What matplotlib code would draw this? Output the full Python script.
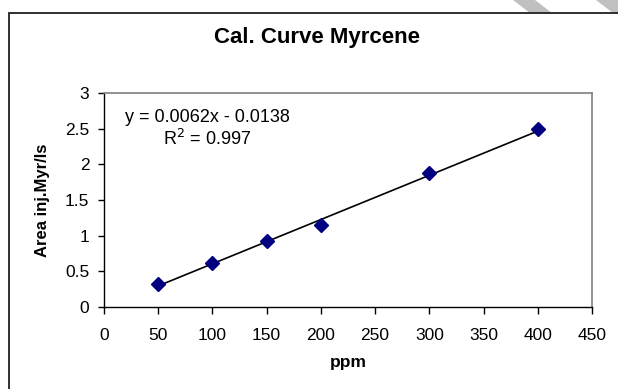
import matplotlib
matplotlib.use("Agg")
import matplotlib.pyplot as plt
from matplotlib.patches import Polygon, Rectangle

plt.rcParams['font.family'] = ['Liberation Sans', 'DejaVu Sans']

W, H = 618, 389

# calibration data
ppm = [50, 100, 150, 200, 300, 400]
area = [0.32, 0.62, 0.93, 1.15, 1.88, 2.49]
slope, intercept, r2 = 0.0062, -0.0138, 0.997
x_ticks = [0, 50, 100, 150, 200, 250, 300, 350, 400, 450]
y_ticks = [0, 0.5, 1, 1.5, 2, 2.5, 3]
y_ticklabels = ['0', '0.5', '1', '1.5', '2', '2.5', '3']

fig = plt.figure(figsize=(W / 100, H / 100), dpi=100)

def px(x, y):
    return (x / W, 1 - y / H)

# grey diagonal stripes behind the chart (top right)
for pts in ([(513, 0), (535, 0), (552, 13), (530, 13)],
            [(596, 0), (620, 0), (637, 13), (613, 13)]):
    fig.add_artist(Polygon([px(*p) for p in pts], closed=True,
                           transform=fig.transFigure, color='#c0c0c0', lw=0))

# outer chart box (runs off the right and bottom edge)
fig.add_artist(Rectangle(px(9, 400), (700 - 9) / W, (400 - 12.8) / H,
                         transform=fig.transFigure, fill=False,
                         edgecolor='#202020', lw=1.3))

ax = fig.add_axes([104 / W, 1 - 307 / H, 488 / W, 214 / H])

xs = [ppm[0], ppm[-1]]
ax.plot(xs, [slope * x + intercept for x in xs], color='black', lw=1.2, zorder=2)
ax.plot(ppm, area, linestyle='none', marker='D', markersize=7,
        color='#000080', zorder=3)

ax.set_xlim(0, 450)
ax.set_ylim(0, 3)
ax.set_xticks(x_ticks)
ax.set_yticks(y_ticks)
ax.set_yticklabels(y_ticklabels)
ax.tick_params(axis='x', direction='out', length=5, width=1, pad=10,
               labelsize=12.5, color='black')
ax.tick_params(axis='y', direction='out', length=4, width=1, pad=6.5,
               labelsize=12.5, color='black')

for s in ('top', 'right'):
    ax.spines[s].set_color('#808080')
    ax.spines[s].set_linewidth(1.2)
for s in ('left', 'bottom'):
    ax.spines[s].set_color('black')
    ax.spines[s].set_linewidth(1.0)

fig.text(*px(317, 37), 'Cal. Curve Myrcene', ha='center', va='center',
         fontsize=16, fontweight='bold')
fig.text(*px(348, 362), 'ppm', ha='center', va='center',
         fontsize=12.5, fontweight='bold')
fig.text(*px(43, 200), 'Area inj.Myr/ls', ha='center', va='center',
         rotation=90, fontsize=12, fontweight='bold')

fig.text(*px(207, 117), 'y = %.4fx - %.4f' % (slope, -intercept),
         ha='center', va='center', fontsize=13)
fig.text(*px(207, 139), 'R$^2$ = %.3f' % r2, ha='center', va='center',
         fontsize=13)

fig.savefig('out.png', dpi=100)
